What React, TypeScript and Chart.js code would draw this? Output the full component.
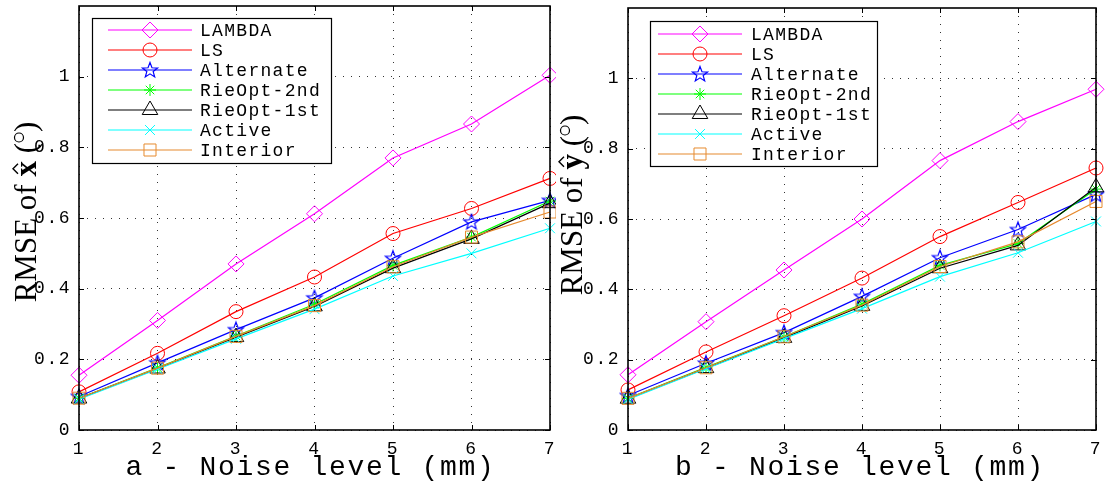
import React, { useEffect, useRef } from 'react';
import { Chart, registerables } from 'chart.js';

Chart.register(...registerables);

// ---------------- data ----------------
const noiseLevels = [1, 2, 3, 4, 5, 6, 7];
const yTickValues = [0, 0.2, 0.4, 0.6, 0.8, 1];
const seriesNames = ['LAMBDA', 'LS', 'Alternate', 'RieOpt-2nd', 'RieOpt-1st', 'Active', 'Interior'];
const seriesColors = ['#ff00ff', '#ff0000', '#0000ff', '#00ff00', '#000000', '#00ffff', '#e68a2e'];

// panel a : RMSE of x-hat
const lambdaX = [0.155, 0.31, 0.47, 0.612, 0.77, 0.866, 1.004];
const lsX = [0.108, 0.217, 0.335, 0.433, 0.556, 0.627, 0.712];
const alternateX = [0.095, 0.19, 0.284, 0.374, 0.486, 0.589, 0.65];
const rieOpt2X = [0.09, 0.176, 0.266, 0.356, 0.466, 0.546, 0.648];
const rieOpt1X = [0.089, 0.174, 0.263, 0.35, 0.458, 0.541, 0.642];
const activeX = [0.087, 0.172, 0.258, 0.342, 0.436, 0.5, 0.571];
const interiorX = [0.09, 0.175, 0.265, 0.352, 0.462, 0.546, 0.617];

// panel b : RMSE of y-hat
const lambdaY = [0.157, 0.308, 0.455, 0.6, 0.766, 0.877, 0.969];
const lsY = [0.114, 0.222, 0.325, 0.432, 0.55, 0.647, 0.745];
const alternateY = [0.098, 0.19, 0.277, 0.38, 0.49, 0.57, 0.67];
const rieOpt2Y = [0.09, 0.178, 0.265, 0.358, 0.468, 0.53, 0.685];
const rieOpt1Y = [0.089, 0.176, 0.262, 0.353, 0.46, 0.525, 0.69];
const activeY = [0.087, 0.174, 0.26, 0.345, 0.436, 0.504, 0.593];
const interiorY = [0.09, 0.177, 0.265, 0.355, 0.465, 0.535, 0.65];

const seriesA = [lambdaX, lsX, alternateX, rieOpt2X, rieOpt1X, activeX, interiorX];
const seriesB = [lambdaY, lsY, alternateY, rieOpt2Y, rieOpt1Y, activeY, interiorY];

// ---------------- styling ----------------
const markerKinds = ['rectRot', 'circle', 'pentagram', 'star', 'triangle', 'crossRot', 'rect'];
const markerRadii = [8, 7, 8, 6, 9, 7, 8.5];

function makeStar(color: string, r: number): HTMLCanvasElement {
  const size = Math.ceil(r * 2 + 4);
  const c = document.createElement('canvas');
  c.width = size;
  c.height = size;
  const g = c.getContext('2d')!;
  const cx = size / 2;
  const cy = size / 2 + 0.5;
  const inner = r * 0.42;
  g.beginPath();
  for (let i = 0; i < 10; i++) {
    const a = -Math.PI / 2 + (i * Math.PI) / 5;
    const rr = i % 2 === 0 ? r : inner;
    const px = cx + rr * Math.cos(a);
    const py = cy + rr * Math.sin(a);
    if (i === 0) g.moveTo(px, py);
    else g.lineTo(px, py);
  }
  g.closePath();
  g.strokeStyle = color;
  g.lineWidth = 1.2;
  g.stroke();
  return c;
}

function drawMarker(ctx: CanvasRenderingContext2D, kind: string, x: number, y: number, r: number, color: string, star: HTMLCanvasElement) {
  if (kind === 'pentagram') {
    ctx.drawImage(star, x - star.width / 2, y - star.height / 2);
    return;
  }
  ctx.save();
  ctx.strokeStyle = color;
  ctx.lineWidth = 1;
  ctx.beginPath();
  if (kind === 'rectRot') {
    ctx.moveTo(x, y - r);
    ctx.lineTo(x + r, y);
    ctx.lineTo(x, y + r);
    ctx.lineTo(x - r, y);
    ctx.closePath();
  } else if (kind === 'circle') {
    ctx.arc(x, y, r, 0, Math.PI * 2);
  } else if (kind === 'star') {
    const d = r * Math.SQRT1_2;
    ctx.moveTo(x - r, y); ctx.lineTo(x + r, y);
    ctx.moveTo(x, y - r); ctx.lineTo(x, y + r);
    ctx.moveTo(x - d, y - d); ctx.lineTo(x + d, y + d);
    ctx.moveTo(x - d, y + d); ctx.lineTo(x + d, y - d);
  } else if (kind === 'triangle') {
    ctx.moveTo(x, y - r);
    ctx.lineTo(x + r * 0.866, y + r * 0.5);
    ctx.lineTo(x - r * 0.866, y + r * 0.5);
    ctx.closePath();
  } else if (kind === 'crossRot') {
    const d = r * Math.SQRT1_2;
    ctx.moveTo(x - d, y - d); ctx.lineTo(x + d, y + d);
    ctx.moveTo(x - d, y + d); ctx.lineTo(x + d, y - d);
  } else if (kind === 'rect') {
    const s = r * Math.SQRT1_2;
    ctx.rect(x - s, y - s, 2 * s, 2 * s);
  }
  ctx.stroke();
  ctx.restore();
}

type PanelCfg = {
  letter: string;
  variable: string;
  series: number[][];
  left: number;
  width: number;
  yAxisWidth: number;
  padTop: number;
  padRight: number;
  legend: { x: number; y: number; w: number; h: number; firstY: number; step: number; lineX0: number; lineX1: number; markerX: number; textX: number };
  yTitle: { x: number; cy: number };
  xTitleShift: number;
};

const panelA: PanelCfg = {
  letter: 'a',
  variable: 'x',
  series: seriesA,
  left: 0,
  width: 556,
  yAxisWidth: 79,
  padTop: 6,
  padRight: 6,
  legend: { x: 92, y: 18, w: 239, h: 145, firstY: 30, step: 20, lineX0: 108, lineX1: 192, markerX: 150, textX: 200 },
  yTitle: { x: 36, cy: 212 },
  xTitleShift: -4,
};

const panelB: PanelCfg = {
  letter: 'b',
  variable: 'y',
  series: seriesB,
  left: 556,
  width: 550,
  yAxisWidth: 72,
  padTop: 8,
  padRight: 10,
  legend: { x: 94, y: 21, w: 227, h: 145, firstY: 34, step: 20, lineX0: 102, lineX1: 186, markerX: 144, textX: 195 },
  yTitle: { x: 26, cy: 205 },
  xTitleShift: -2,
};

function drawYTitle(ctx: CanvasRenderingContext2D, v: string, x: number, cy: number) {
  ctx.save();
  (ctx as any).letterSpacing = '0px';
  ctx.translate(x, cy);
  ctx.rotate(-Math.PI / 2);
  ctx.fillStyle = '#000';
  ctx.strokeStyle = '#000';
  ctx.textBaseline = 'alphabetic';
  ctx.textAlign = 'left';
  const reg = '31px "Liberation Serif"';
  const bold = 'bold 31px "Liberation Serif"';
  const measure = (t: string, f: string) => { ctx.font = f; return ctx.measureText(t).width; };
  const w1 = measure('RMSE of ', reg);
  const w2 = measure(v, bold);
  const w3 = measure(' (', reg);
  const w4 = 11;
  const w5 = measure(')', reg);
  const total = w1 + w2 + w3 + w4 + w5;
  let cur = -total / 2;
  ctx.font = reg; ctx.fillText('RMSE of ', cur, 0); cur += w1;
  ctx.font = bold; ctx.fillText(v, cur, 0);
  ctx.lineWidth = 1.4;
  ctx.beginPath();
  const hx = cur + w2 / 2;
  ctx.moveTo(hx - 5, -18);
  ctx.lineTo(hx, -23);
  ctx.lineTo(hx + 5, -18);
  ctx.stroke();
  cur += w2;
  ctx.font = reg; ctx.fillText(' (', cur, 0); cur += w3;
  ctx.lineWidth = 1.2;
  ctx.beginPath();
  ctx.arc(cur + w4 / 2, -17, 4.5, 0, Math.PI * 2);
  ctx.stroke();
  cur += w4;
  ctx.font = reg; ctx.fillText(')', cur, 0);
  ctx.restore();
}

function Panel({ cfg }: { cfg: PanelCfg }) {
  const ref = useRef<HTMLCanvasElement | null>(null);
  useEffect(() => {
    if (!ref.current) return;
    const stars = seriesColors.map((c) => makeStar(c, 8));
    const datasets = seriesNames.map((name, i) => ({
      label: name,
      data: noiseLevels.map((x, j) => ({ x, y: cfg.series[i][j] })),
      borderColor: seriesColors[i],
      backgroundColor: 'rgba(0,0,0,0)',
      borderWidth: 1.2,
      tension: 0,
      fill: false,
      pointStyle: markerKinds[i] === 'pentagram' ? stars[i] : markerKinds[i],
      pointRadius: markerRadii[i],
      pointBorderWidth: 1,
      pointBorderColor: seriesColors[i],
      pointBackgroundColor: 'rgba(0,0,0,0)',
      order: seriesNames.length - i,
      clip: false as any,
    }));

    const frame = {
      id: 'matlabFrame',
      beforeDraw(chart: any) {
        chart.ctx.letterSpacing = '1.5px';
      },
      afterDraw(chart: any) {
        const ctx: CanvasRenderingContext2D = chart.ctx;
        (ctx as any).letterSpacing = '0px';
        const a = chart.chartArea;
        const sx = chart.scales.x;
        const sy = chart.scales.y;
        ctx.save();
        ctx.strokeStyle = '#000';
        ctx.lineWidth = 1;
        ctx.beginPath();
        sx.ticks.forEach((t: any) => {
          const px = Math.round(sx.getPixelForValue(t.value)) + 0.5;
          ctx.moveTo(px, a.bottom); ctx.lineTo(px, a.bottom - 5);
          ctx.moveTo(px, a.top); ctx.lineTo(px, a.top + 5);
        });
        sy.ticks.forEach((t: any) => {
          const py = Math.round(sy.getPixelForValue(t.value)) + 0.5;
          ctx.moveTo(a.left, py); ctx.lineTo(a.left + 5, py);
          ctx.moveTo(a.right, py); ctx.lineTo(a.right - 5, py);
        });
        ctx.stroke();
        ctx.lineWidth = 1.6;
        ctx.strokeRect(a.left, a.top, a.right - a.left, a.bottom - a.top);
        ctx.restore();

        // legend
        const L = cfg.legend;
        ctx.save();
        ctx.fillStyle = '#fff';
        ctx.fillRect(L.x, L.y, L.w, L.h);
        ctx.lineWidth = 1.2;
        ctx.strokeStyle = '#000';
        ctx.strokeRect(L.x + 0.5, L.y + 0.5, L.w, L.h);
        ctx.restore();
        for (let i = 0; i < seriesNames.length; i++) {
          const yy = Math.round(L.firstY + i * L.step);
          ctx.save();
          ctx.strokeStyle = seriesColors[i];
          ctx.lineWidth = 1.2;
          ctx.beginPath();
          ctx.moveTo(L.lineX0, yy);
          ctx.lineTo(L.lineX1, yy);
          ctx.stroke();
          ctx.restore();
          drawMarker(ctx, markerKinds[i], L.markerX, yy, markerRadii[i], seriesColors[i], stars[i]);
          ctx.save();
          ctx.fillStyle = '#000';
          ctx.font = '18px "Liberation Mono"';
          (ctx as any).letterSpacing = '1.3px';
          ctx.textAlign = 'left';
          ctx.textBaseline = 'middle';
          ctx.fillText(seriesNames[i], L.textX, yy + 1);
          ctx.restore();
        }

        // x title
        ctx.save();
        ctx.fillStyle = '#000';
        ctx.font = '28px "Liberation Mono"';
        (ctx as any).letterSpacing = '1.7px';
        ctx.textAlign = 'center';
        ctx.textBaseline = 'alphabetic';
        ctx.fillText(cfg.letter + ' - Noise level (mm)', (a.left + a.right) / 2 + cfg.xTitleShift, 475);
        ctx.restore();
        (ctx as any).letterSpacing = '0px';

        drawYTitle(ctx, cfg.variable, cfg.yTitle.x, cfg.yTitle.cy);
      },
    };

    const chart = new Chart(ref.current, {
      type: 'line',
      data: { datasets: datasets as any },
      options: {
        animation: false,
        responsive: false,
        events: [],
        layout: { autoPadding: false, padding: { top: cfg.padTop, right: cfg.padRight, left: 0, bottom: 0 } },
        plugins: { legend: { display: false }, tooltip: { enabled: false } },
        scales: {
          x: {
            type: 'linear',
            min: 1,
            max: 7,
            afterFit: (s: any) => {
              s.height = 52;
              s.paddingLeft = 0;
              s.paddingRight = 0;
            },
            ticks: {
              stepSize: 1,
              padding: 8,
              color: '#000',
              font: { family: 'Liberation Mono', size: 18 },
              maxRotation: 0,
              autoSkip: false,
            },
            grid: { color: '#333', lineWidth: 1, drawTicks: false },
            border: { display: false, dash: [1, 7] },
          },
          y: {
            type: 'linear',
            min: 0,
            max: 1.2,
            afterFit: (s: any) => {
              s.width = cfg.yAxisWidth;
              s.paddingTop = 0;
              s.paddingBottom = 0;
            },
            afterBuildTicks: (s: any) => {
              s.ticks = yTickValues.map((v) => ({ value: v }));
            },
            ticks: {
              padding: 8,
              color: '#000',
              font: { family: 'Liberation Mono', size: 18 },
              callback: (v: any) => String(Number(Number(v).toFixed(1))),
            },
            grid: { color: '#333', lineWidth: 1, drawTicks: false },
            border: { display: false, dash: [1, 7] },
          },
        },
      },
      plugins: [frame as any],
    });
    return () => chart.destroy();
  }, [cfg]);

  return (
    <canvas
      ref={ref}
      width={cfg.width}
      height={482}
      style={{ position: 'absolute', left: cfg.left, top: 0, width: cfg.width, height: 482, display: 'block' }}
    />
  );
}

export default function App() {
  return (
    <div style={{ position: 'absolute', left: 0, top: 0, width: 1106, height: 482, background: '#fff', overflow: 'hidden' }}>
      <Panel cfg={panelA} />
      <Panel cfg={panelB} />
    </div>
  );
}
